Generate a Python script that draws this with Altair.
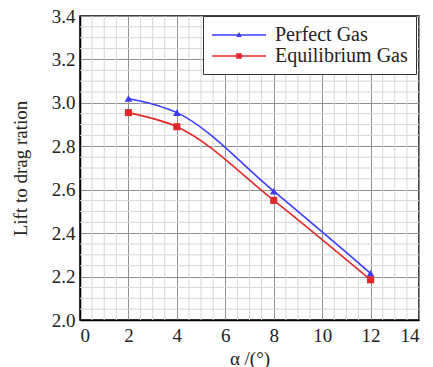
import altair as alt
import pandas as pd
import numpy as np

# data
alpha = [2, 4, 8, 12]
perfect_gas = [3.02, 2.955, 2.593, 2.215]
equilibrium_gas = [2.955, 2.89, 2.551, 2.185]
series_names = ["Perfect Gas", "Equilibrium Gas"]
series_colors = ["#3c3cff", "#e02a2a"]
x_ticks = [0, 2, 4, 6, 8, 10, 12, 14]
y_ticks = [2.0, 2.2, 2.4, 2.6, 2.8, 3.0, 3.2, 3.4]

rows = []
for a, v in zip(alpha, perfect_gas):
    rows.append({"alpha": a, "ratio": v, "series": series_names[0]})
for a, v in zip(alpha, equilibrium_gas):
    rows.append({"alpha": a, "ratio": v, "series": series_names[1]})
df = pd.DataFrame(rows)

x_minor = [v for v in np.arange(0, 14.01, 0.5) if abs(v / 2 - round(v / 2)) > 1e-6]
y_minor = [round(v, 2) for v in np.arange(2.0, 3.401, 0.05) if abs(v / 0.2 - round(v / 0.2)) > 1e-6]
gx = pd.DataFrame({"x": x_minor})
gy = pd.DataFrame({"y": y_minor})

FONT = "Liberation Serif"
xs = alt.Scale(domain=[0, 14], nice=False)
ys = alt.Scale(domain=[2.0, 3.4], nice=False)

# legend symbols: a thin bar (line) with the marker in its middle, all filled
tri_path = "M-2.7,-0.08H2.7V0.08H-2.7ZM0,-0.3L0.28,0.2L-0.28,0.2Z"
sq_path = "M-2.7,-0.08H2.7V0.08H-2.7ZM-0.28,-0.28H0.28V0.28H-0.28Z"

minor_x = alt.Chart(gx).mark_rule(color="#d6d6d6", strokeWidth=1).encode(
    x=alt.X("x:Q", scale=xs,
            axis=alt.Axis(values=x_ticks, title="α /(°)", grid=True, gridColor="#909090",
                          gridWidth=1, ticks=False, labelPadding=6, titlePadding=4,
                          domainColor="black", domainWidth=1.5)),
)
minor_y = alt.Chart(gy).mark_rule(color="#d6d6d6", strokeWidth=1).encode(
    y=alt.Y("y:Q", scale=ys,
            axis=alt.Axis(values=y_ticks, format=".1f", title="Lift to drag ration", grid=True,
                          gridColor="#909090", gridWidth=1, ticks=False, labelPadding=5,
                          titlePadding=21, domainColor="black", domainWidth=1.5)),
)

base = alt.Chart(df)
xenc = alt.X("alpha:Q", scale=xs)
yenc = alt.Y("ratio:Q", scale=ys)

leg = alt.Legend(title=None, orient="none", legendX=123, legendY=0,
                 strokeColor="#333333", fillColor="white", padding=8,
                 symbolSize=400, symbolOffset=17,
                 labelFont=FONT, labelFontSize=20, labelColor="#222222", labelOffset=25,
                 rowPadding=0, cornerRadius=0)

legend_layer = base.mark_point(filled=True, size=2, opacity=1).encode(
    x=xenc, y=yenc,
    fill=alt.Fill("series:N", scale=alt.Scale(domain=series_names, range=series_colors), legend=leg),
    shape=alt.Shape("series:N", scale=alt.Scale(domain=series_names, range=[tri_path, sq_path]),
                    legend=leg),
)

layers = [minor_x, minor_y, legend_layer]
marker_shapes = ["triangle-up", "square"]
marker_sizes = [60, 50]
for name, col, shp, sz in zip(series_names, series_colors, marker_shapes, marker_sizes):
    sub = base.transform_filter(alt.datum.series == name)
    layers.append(sub.mark_line(interpolate="monotone", strokeWidth=1.6, color=col).encode(x=xenc, y=yenc))
    layers.append(sub.mark_point(shape=shp, filled=True, size=sz, opacity=1, color=col).encode(x=xenc, y=yenc))

chart = alt.layer(*layers).properties(
    width=339, height=304,
    autosize=alt.AutoSizeParams(type="none"),
    padding={"left": 80, "top": 16, "right": 14, "bottom": 47},
).configure_view(stroke="black", strokeWidth=1.5).configure_axis(
    labelFont=FONT, labelFontSize=19, labelColor="#222222",
    titleFont=FONT, titleFontSize=19, titleColor="#222222", titleFontWeight="normal",
)

chart.save("out.html", embed_options={"renderer": "svg", "actions": False})
